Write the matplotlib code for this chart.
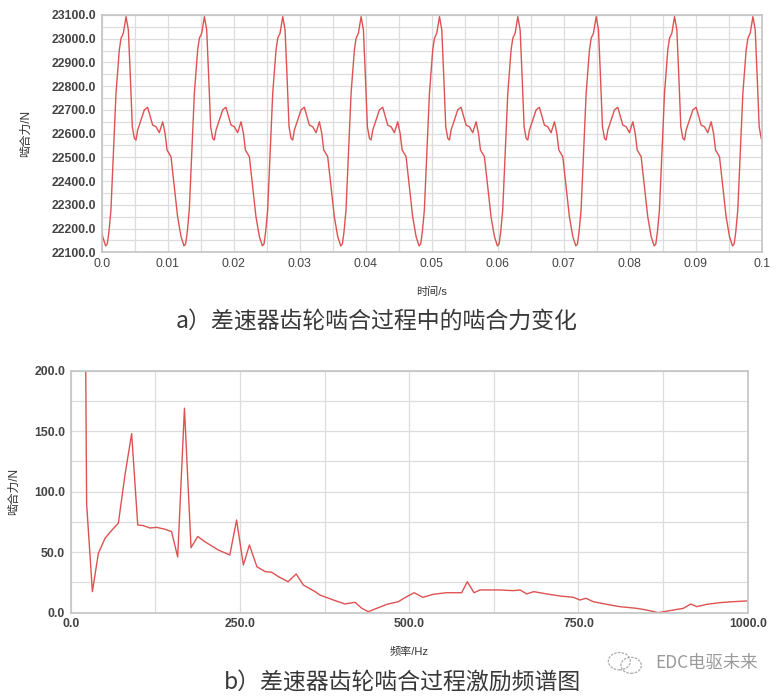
import numpy as np
import matplotlib
matplotlib.use("Agg")
import matplotlib.pyplot as plt
from matplotlib.ticker import MultipleLocator
from matplotlib.patches import Ellipse

plt.rcParams['font.family'] = ['Liberation Sans', 'Noto Sans CJK SC', 'DejaVu Sans']

# --- a) meshing force vs time: one read cycle (offset from its minimum) ---
cycle_dt = [0.0, 0.00025, 0.0005, 0.0008, 0.0012, 0.00157, 0.00207, 0.00233,
            0.00268, 0.00309, 0.00344, 0.00374, 0.00404, 0.00435, 0.0046,
            0.00485, 0.00536, 0.00586, 0.00636, 0.00677, 0.00712, 0.00763,
            0.00813, 0.00864, 0.009, 0.0093, 0.0099, 0.0104, 0.0109, 0.01142]
cycle_force = [22127, 22135, 22187, 22278, 22531, 22770, 22953, 23002,
               23023, 23093, 23037, 22840, 22629, 22580, 22573,
               22615, 22658, 22700, 22711, 22671, 22636, 22629,
               22604, 22650, 22601, 22531, 22503, 22376, 22250, 22166]
# times of each cycle's minimum
cycle_starts = [-0.01127, 0.0006, 0.01247, 0.02434, 0.03621, 0.04808,
                0.05995, 0.07182, 0.08369, 0.09556]

# --- b) excitation spectrum ---
freq = [21.5, 23.5, 32, 40.8, 50.7, 60.5, 70.4, 80.2, 90, 99, 107, 117, 127,
        139, 149, 158, 168, 177.7, 187.6, 198, 218, 235, 245, 255, 264, 275,
        287, 297, 306.7, 321, 333, 343.6, 361, 368, 388, 405, 420, 430, 439.6,
        452, 467, 484, 496, 507.5, 520, 535.6, 555, 577.5, 585.8, 595.7,
        604.6, 634, 653.8, 663.7, 673.5, 684, 703, 722.8, 742.4, 752.3, 761,
        771.9, 791.7, 811, 836, 850.8, 868, 885, 904.9, 916, 924.7, 939.5,
        959, 978.7, 998.5]
amp = [260, 90, 17.4, 49, 61.5, 68, 74, 114, 148, 72.5, 72, 70, 70.5,
       69, 67, 46, 169, 53.7, 63, 58.7, 51.8, 47.7, 76.6, 39.4, 56, 38,
       34, 33.4, 29.8, 25.6, 32, 22.9, 17.4, 14.6, 10.5, 7.2, 8.6, 3.6, 0.8,
       3.6, 6.9, 9.1, 13.2, 16.5, 12.7, 15.2, 16.5, 16.5, 25.6, 16.5,
       18.8, 18.8, 18.2, 18.8, 15.5, 17.4, 15.5, 13.8, 12.7, 10.5, 11.9,
       9.1, 6.9, 5, 3.6, 2.2, 0, 1.7, 3.6, 7.2, 5, 6.9,
       8.3, 9.1, 9.7]

t = []
force = []
for s in cycle_starts:
    for dt, f in zip(cycle_dt, cycle_force):
        t.append(s + dt)
        force.append(f)

line_c = '#de5252'
grid_c = '#dddddd'
spine_c = '#c4c4c4'
tick_c = '#444444'
cjk = ['Noto Sans CJK SC', 'DejaVu Sans']

fig = plt.figure(figsize=(7.84, 6.96), dpi=100)


def style(ax, bold_x=True):
    for sp in ax.spines.values():
        sp.set_color(spine_c)
        sp.set_linewidth(1.2)
    ax.grid(True, which='both', color=grid_c, lw=0.9)
    ax.set_axisbelow(True)
    ax.tick_params(which='major', length=0, labelsize=8.8, labelcolor=tick_c, pad=4)
    ax.tick_params(which='minor', length=0)
    for lab in ax.get_yticklabels():
        lab.set_fontweight('bold')
    if bold_x:
        for lab in ax.get_xticklabels():
            lab.set_fontweight('bold')


ax1 = fig.add_axes([0.1297, 0.6375, 0.842, 0.341])
ax1.plot(t, force, color=line_c, lw=1.0)
ax1.set_xlim(0, 0.1)
ax1.set_ylim(22100, 23100)
ax1.xaxis.set_minor_locator(MultipleLocator(0.005))
ax1.yaxis.set_major_locator(MultipleLocator(100))
ax1.yaxis.set_minor_locator(MultipleLocator(50))
ax1.set_xticks(np.arange(0, 0.1001, 0.01))
ax1.set_xticklabels(['0.0'] + ['%.2f' % v for v in np.arange(0.01, 0.095, 0.01)] + ['0.1'])
ax1.set_yticks(np.arange(22100, 23101, 100))
ax1.set_yticklabels(['%.1f' % v for v in np.arange(22100, 23101, 100)])
style(ax1, bold_x=False)
ax1.set_xlabel('时间/s', fontsize=8, color='#333333', labelpad=12)
ax1.set_ylabel('啮合力/N', fontsize=8.5, color='#333333', labelpad=14)

ax2 = fig.add_axes([0.0902, 0.1197, 0.8635, 0.3477])
ax2.plot(freq, amp, color=line_c, lw=1.0)
ax2.set_xlim(0, 1000)
ax2.set_ylim(0, 200)
ax2.xaxis.set_minor_locator(MultipleLocator(125))
ax2.yaxis.set_minor_locator(MultipleLocator(25))
ax2.set_xticks([0, 250, 500, 750, 1000])
ax2.set_xticklabels(['0.0', '250.0', '500.0', '750.0', '1000.0'])
ax2.set_yticks([0, 50, 100, 150, 200])
ax2.set_yticklabels(['0.0', '50.0', '100.0', '150.0', '200.0'])
style(ax2)
ax2.set_xlabel('频率/Hz', fontsize=8, color='#333333', labelpad=12)
ax2.set_ylabel('啮合力/N', fontsize=8.5, color='#333333', labelpad=10)

fig.text(0.48, 0.537, 'a）差速器齿轮啮合过程中的啮合力变化', ha='center', va='center',
         fontsize=16.5, color='#383838', family=cjk, fontweight='light')
fig.text(0.513, 0.019, 'b）差速器齿轮啮合过程激励频谱图', ha='center', va='center',
         fontsize=16.5, color='#383838', family=cjk, fontweight='light')
fig.text(0.967, 0.047, 'EDC电驱未来', ha='right', va='center', fontsize=12.5,
         color='#9a9a9a', family=cjk, fontweight='light')
# small chat-bubble logo next to the watermark
fig.patches.append(Ellipse((0.790, 0.050), 0.028, 0.025, transform=fig.transFigure,
                           fill=False, ec='#aaaaaa', lw=0.9, ls=(0, (2, 1))))
fig.patches.append(Ellipse((0.805, 0.044), 0.026, 0.023, transform=fig.transFigure,
                           fill=False, ec='#aaaaaa', lw=0.9, ls=(0, (2, 1))))

fig.savefig('out.png', dpi=100)
